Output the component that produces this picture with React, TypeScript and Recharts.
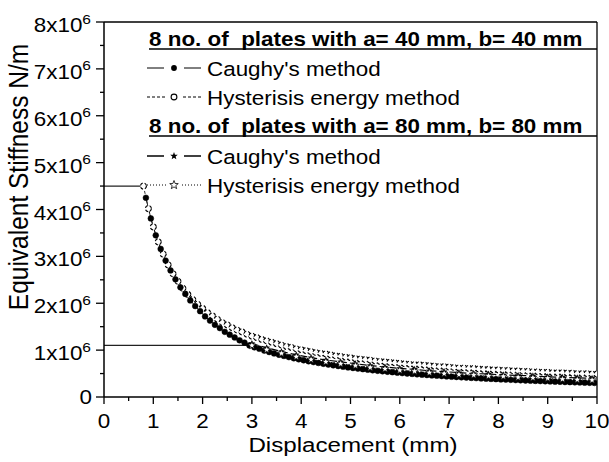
import React from 'react';
import { LineChart, Line, XAxis, YAxis, ReferenceLine, Customized } from 'recharts';

// ---- data (stiffness values in units of 10^6 N/m) ----
const hyst40X = [0.8, 0.9, 1.0, 1.1, 1.2, 1.3, 1.4, 1.5, 1.6, 1.7, 1.8, 1.9, 2.0, 2.1, 2.2, 2.3, 2.4, 2.5, 2.6, 2.7, 2.8, 2.9, 3.0, 3.1, 3.2, 3.3, 3.4, 3.5, 3.6, 3.7, 3.8, 3.9, 4.0, 4.1, 4.2, 4.3, 4.4, 4.5, 4.6, 4.7, 4.8, 4.9, 5.0, 5.1, 5.2, 5.3, 5.4, 5.5, 5.6, 5.7, 5.8, 5.9, 6.0, 6.1, 6.2, 6.3, 6.4, 6.5, 6.6, 6.7, 6.8, 6.9, 7.0, 7.1, 7.2, 7.3, 7.4, 7.5, 7.6, 7.7, 7.8, 7.9, 8.0, 8.1, 8.2, 8.3, 8.4, 8.5, 8.6, 8.7, 8.8, 8.9, 9.0, 9.1, 9.2, 9.3, 9.4, 9.5, 9.6, 9.7, 9.8, 9.9, 10.0];
const hyst40K = [4.5, 4.02, 3.63, 3.31, 3.05, 2.82, 2.63, 2.47, 2.32, 2.19, 2.08, 1.98, 1.89, 1.8, 1.73, 1.66, 1.59, 1.54, 1.48, 1.43, 1.39, 1.34, 1.3, 1.27, 1.23, 1.2, 1.17, 1.14, 1.11, 1.08, 1.06, 1.03, 1.01, 0.99, 0.97, 0.95, 0.93, 0.92, 0.9, 0.88, 0.87, 0.85, 0.84, 0.82, 0.81, 0.8, 0.79, 0.77, 0.76, 0.75, 0.74, 0.73, 0.72, 0.71, 0.7, 0.69, 0.69, 0.68, 0.67, 0.66, 0.65, 0.65, 0.64, 0.63, 0.62, 0.62, 0.61, 0.61, 0.6, 0.59, 0.59, 0.58, 0.58, 0.57, 0.57, 0.56, 0.56, 0.55, 0.55, 0.54, 0.54, 0.53, 0.53, 0.52, 0.52, 0.52, 0.51, 0.51, 0.5, 0.5, 0.5, 0.49, 0.49];

const caughy40X = [0.85, 0.95, 1.05, 1.15, 1.25, 1.35, 1.45, 1.55, 1.65, 1.75, 1.85, 1.95, 2.05, 2.15, 2.25, 2.35, 2.45, 2.55, 2.65, 2.75, 2.85, 2.95, 3.05, 3.15, 3.25, 3.35, 3.45, 3.55, 3.65, 3.75, 3.85, 3.95, 4.05, 4.15, 4.25, 4.35, 4.45, 4.55, 4.65, 4.75, 4.85, 4.95, 5.05, 5.15, 5.25, 5.35, 5.45, 5.55, 5.65, 5.75, 5.85, 5.95, 6.05, 6.15, 6.25, 6.35, 6.45, 6.55, 6.65, 6.75, 6.85, 6.95, 7.05, 7.15, 7.25, 7.35, 7.45, 7.55, 7.65, 7.75, 7.85, 7.95, 8.05, 8.15, 8.25, 8.35, 8.45, 8.55, 8.65, 8.75, 8.85, 8.95, 9.05, 9.15, 9.25, 9.35, 9.45, 9.55, 9.65, 9.75, 9.85, 9.95];
const caughy40K = [4.25, 3.81, 3.45, 3.16, 2.91, 2.7, 2.51, 2.34, 2.2, 2.06, 1.94, 1.83, 1.72, 1.63, 1.54, 1.47, 1.39, 1.33, 1.27, 1.21, 1.16, 1.1, 1.06, 1.03, 0.99, 0.96, 0.93, 0.9, 0.876, 0.851, 0.827, 0.805, 0.784, 0.763, 0.745, 0.726, 0.709, 0.692, 0.676, 0.661, 0.646, 0.632, 0.619, 0.606, 0.594, 0.582, 0.57, 0.559, 0.549, 0.539, 0.529, 0.519, 0.51, 0.501, 0.493, 0.484, 0.476, 0.469, 0.461, 0.454, 0.447, 0.44, 0.433, 0.427, 0.42, 0.414, 0.408, 0.403, 0.397, 0.391, 0.386, 0.381, 0.376, 0.371, 0.366, 0.361, 0.357, 0.352, 0.348, 0.344, 0.34, 0.336, 0.332, 0.328, 0.324, 0.32, 0.317, 0.313, 0.31, 0.306, 0.303, 0.3];

const plate80X = [3.0, 3.3, 3.6, 3.9, 4.2, 4.5, 4.8, 5.1, 5.4, 5.7, 6.0, 6.3, 6.6, 6.9, 7.2, 7.5, 7.8, 8.1, 8.4, 8.7, 9.0, 9.3, 9.6, 9.9];
const caughy80K = [1.14, 1.05, 0.97, 0.9, 0.84, 0.79, 0.75, 0.71, 0.67, 0.64, 0.61, 0.59, 0.56, 0.54, 0.52, 0.5, 0.49, 0.47, 0.46, 0.45, 0.43, 0.42, 0.41, 0.4];
const hyst80K = [1.1, 1.01, 0.93, 0.86, 0.8, 0.75, 0.71, 0.67, 0.63, 0.6, 0.57, 0.55, 0.52, 0.5, 0.48, 0.47, 0.45, 0.44, 0.42, 0.41, 0.4, 0.38, 0.37, 0.36];

// horizontal lead-in segments seen at the left of the plot
const leadHighX = [0, 0.8];
const leadHighK = [4.5, 4.5];
const leadLowX = [0, 3.0];
const leadLowK = [1.1, 1.1];

const xTicks = [0, 0.5, 1, 1.5, 2, 2.5, 3, 3.5, 4, 4.5, 5, 5.5, 6, 6.5, 7, 7.5, 8, 8.5, 9, 9.5, 10];
const yTicks = [0, 0.5, 1, 1.5, 2, 2.5, 3, 3.5, 4, 4.5, 5, 5.5, 6, 6.5, 7, 7.5, 8];

const legendHeader40 = '8 no. of  plates with a= 40 mm, b= 40 mm';
const legendHeader80 = '8 no. of  plates with a= 80 mm, b= 80 mm';
const caughyLabel = "Caughy's method";
const hystLabel = 'Hysterisis energy method';
const xTitle = 'Displacement (mm)';
const yTitle = 'Equivalent Stiffness N/m';

const zip = (xs: number[], ks: number[]) => xs.map((x, i) => ({ x, y: ks[i] }));
const hyst40 = zip(hyst40X, hyst40K);
const caughy40 = zip(caughy40X, caughy40K);
const caughy80 = zip(plate80X, caughy80K);
const hyst80 = zip(plate80X, hyst80K);
const leadHigh = zip(leadHighX, leadHighK);
const leadLow = zip(leadLowX, leadLowK);

const FONT = '"Liberation Sans", Arial, Helvetica, sans-serif';
const SX = 1.15;

const starPath = (cx: number, cy: number, r: number) => {
  const pts: string[] = [];
  for (let i = 0; i < 10; i++) {
    const rad = i % 2 === 0 ? r : r * 0.42;
    const a = -Math.PI / 2 + (i * Math.PI) / 5;
    pts.push(`${(cx + rad * Math.cos(a)).toFixed(2)},${(cy + rad * Math.sin(a)).toFixed(2)}`);
  }
  return 'M' + pts.join('L') + 'Z';
};

const XTick = (props: any) => {
  const { x, y, payload } = props;
  const v = payload.value as number;
  const major = Number.isInteger(v);
  return (
    <g>
      <line x1={x} y1={y} x2={x} y2={y + (major ? 7 : 4)} stroke="#000" strokeWidth={1.3} />
      {major && (
        <text transform={`translate(${x},${y + 31}) scale(${SX},1)`} textAnchor="middle" fontSize={19.5} fontFamily={FONT} fill="#000">
          {String(v)}
        </text>
      )}
    </g>
  );
};

const YTick = (props: any) => {
  const { x, y, payload } = props;
  const v = payload.value as number;
  const major = Number.isInteger(v);
  return (
    <g>
      <line x1={x - (major ? 8 : 4)} y1={y} x2={x} y2={y} stroke="#000" strokeWidth={1.3} />
      {major && v === 0 && (
        <text transform={`translate(${x - 12},${y + 7}) scale(${SX},1)`} textAnchor="end" fontSize={19.5} fontFamily={FONT} fill="#000">
          0
        </text>
      )}
      {major && v !== 0 && (
        <text transform={`translate(${x - 13},${y + 10}) scale(${SX},1)`} textAnchor="end" fontSize={19.5} fontFamily={FONT} fill="#000">
          {`${v}x10`}
          <tspan dy={-8.5} fontSize={13.5}>6</tspan>
        </text>
      )}
    </g>
  );
};

const LegendBlock = () => {
  const t = (x: number, y: number, s: string, bold = false) => (
    <text
      transform={`translate(${x},${y}) scale(${SX},1)`}
      fontSize={19.5}
      fontWeight={bold ? 'bold' : 'normal'}
      fontFamily={FONT}
      fill="#000"
      style={{ whiteSpace: 'pre' }}
    >
      {s}
    </text>
  );
  const mx = 174;
  return (
    <g>
      {t(149, 46, legendHeader40, true)}
      <line x1={149} y1={49} x2={597} y2={49} stroke="#000" strokeWidth={1.3} />
      <line x1={147} y1={68} x2={164} y2={68} stroke="#000" strokeWidth={1} />
      <circle cx={mx} cy={68} r={2.9} fill="#000" />
      <line x1={184} y1={68} x2={201} y2={68} stroke="#000" strokeWidth={1} />
      {t(207, 76, caughyLabel)}
      <line x1={147} y1={97} x2={165} y2={97} stroke="#000" strokeWidth={1} strokeDasharray="3 2" />
      <circle cx={mx} cy={97} r={2.9} fill="#fff" stroke="#000" strokeWidth={1.1} />
      <line x1={183} y1={97} x2={201} y2={97} stroke="#000" strokeWidth={1} strokeDasharray="3 2" />
      {t(207, 105, hystLabel)}
      {t(149, 133, legendHeader80, true)}
      <line x1={149} y1={136} x2={597} y2={136} stroke="#000" strokeWidth={1.3} />
      <line x1={147} y1={156} x2={164} y2={156} stroke="#000" strokeWidth={1.5} />
      <path d={starPath(mx, 156, 4)} fill="#000" />
      <line x1={184} y1={156} x2={201} y2={156} stroke="#000" strokeWidth={1.5} />
      {t(207, 164, caughyLabel)}
      <line x1={147} y1={185} x2={166} y2={185} stroke="#000" strokeWidth={1} strokeDasharray="1 2" />
      <path d={starPath(mx, 185, 4.5)} fill="#fff" stroke="#000" strokeWidth={0.8} />
      <line x1={182} y1={185} x2={201} y2={185} stroke="#000" strokeWidth={1} strokeDasharray="1 2" />
      {t(207, 193, hystLabel)}
      {/* axis titles */}
      <text transform={`translate(353,452) scale(${SX},1)`} textAnchor="middle" fontSize={21} fontFamily={FONT} fill="#000">
        {xTitle}
      </text>
      <text transform={`translate(28,177) scale(${SX},1) rotate(-90)`} textAnchor="middle" fontSize={24.5} fontFamily={FONT} fill="#000">
        {yTitle}
      </text>
    </g>
  );
};

const FilledStar = (p: any) => <path key={`fs-${p.index}`} d={starPath(p.cx, p.cy, 3.6)} fill="#000" />;
const OpenStar = (p: any) => <path key={`os-${p.index}`} d={starPath(p.cx, p.cy, 4)} fill="#fff" stroke="#000" strokeWidth={0.7} />;

export default function App() {
  return (
    <div style={{ position: 'absolute', left: 0, top: 0, width: 609, height: 462, background: '#fff' }}>
      <LineChart width={609} height={462} margin={{ top: 22, right: 12, bottom: 0, left: 0 }}>
        <XAxis
          dataKey="x"
          type="number"
          domain={[0, 10]}
          ticks={xTicks}
          interval={0}
          height={65}
          tickSize={0}
          tickMargin={0}
          tickLine={false}
          tick={<XTick />}
          axisLine={{ stroke: '#000', strokeWidth: 1.5 }}
          allowDataOverflow
        />
        <YAxis
          dataKey="y"
          type="number"
          domain={[0, 8]}
          ticks={yTicks}
          interval={0}
          width={104}
          tickSize={0}
          tickMargin={0}
          tickLine={false}
          tick={<YTick />}
          axisLine={{ stroke: '#000', strokeWidth: 1.5 }}
          allowDataOverflow
        />
        <ReferenceLine y={8} stroke="#000" strokeWidth={1.3} />
        <ReferenceLine x={10} stroke="#000" strokeWidth={1.3} />
        <Line data={leadHigh} dataKey="y" stroke="#222" strokeWidth={1.3} dot={false} isAnimationActive={false} />
        <Line data={leadLow} dataKey="y" stroke="#222" strokeWidth={1.3} dot={false} isAnimationActive={false} />
        <Line
          data={hyst40}
          dataKey="y"
          stroke="#000"
          strokeWidth={0.8}
          strokeDasharray="3 2"
          dot={{ r: 3, fill: '#fff', stroke: '#000', strokeWidth: 1.2 }}
          isAnimationActive={false}
        />
        <Line
          data={caughy40}
          dataKey="y"
          stroke="#000"
          strokeWidth={0.8}
          dot={{ r: 2.9, fill: '#000', stroke: '#000', strokeWidth: 0.5 }}
          isAnimationActive={false}
        />
        <Line data={caughy80} dataKey="y" stroke="#000" strokeWidth={1.2} strokeDasharray="7 3" dot={FilledStar} isAnimationActive={false} />
        <Line data={hyst80} dataKey="y" stroke="#000" strokeWidth={1} strokeDasharray="1 2" dot={OpenStar} isAnimationActive={false} />
        <Customized component={LegendBlock} />
      </LineChart>
    </div>
  );
}
